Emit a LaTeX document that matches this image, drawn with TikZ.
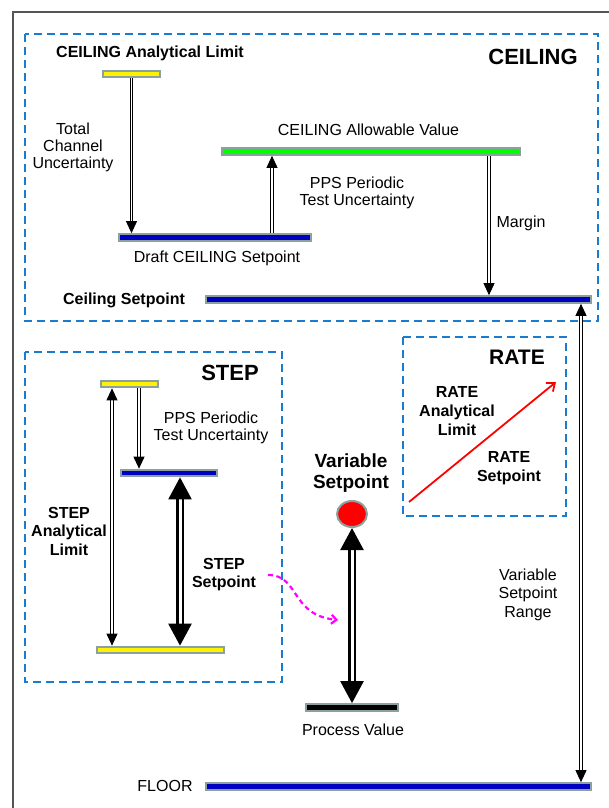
\documentclass[tikz,border=0pt]{standalone}
\usepackage{fontspec}
\setmainfont{Liberation Sans}
\usetikzlibrary{arrows.meta,calc,shapes.geometric}
\definecolor{boxblue}{HTML}{1B7BCF}
\definecolor{barblue}{HTML}{0000C0}
\definecolor{bargray}{HTML}{8CA0A0}
\definecolor{framegray}{HTML}{555555}
\definecolor{barmag}{HTML}{FF00FF}
\begin{document}
\begin{tikzpicture}[x=1pt,y=-1pt,
  bar/.style={draw=bargray, line width=2pt, minimum height=6.7pt, inner sep=0pt, anchor=center},
  zone/.style={draw=boxblue, line width=1.6pt, dash pattern=on 8pt off 5pt},
  lbl/.style={font=\fontsize{16}{17}\selectfont, align=center, inner sep=0pt},
  blbl/.style={font=\fontsize{16}{18.5}\selectfont\bfseries, align=center, inner sep=0pt},
  title/.style={font=\fontsize{22}{24}\selectfont\bfseries, inner sep=0pt},
  thinarrow/.style={double=white, double distance=1.6pt, line width=0.9pt, -{Triangle[length=12pt,width=11pt]}},
  thinboth/.style={thinarrow, {Triangle[length=12pt,width=11pt]}-{Triangle[length=12pt,width=11pt]}},
  bigboth/.style={double=white, double distance=3pt, line width=2.3pt, {Triangle[length=22pt,width=23pt]}-{Triangle[length=22pt,width=23pt]}}
]
\useasboundingbox (0,0) rectangle (608,808);
% outer frame
\draw[framegray, line width=1.5pt] (13,812) -- (13,12) -- (612,12);
% zones
\draw[zone] (25,34) rectangle (598,321);
\draw[zone] (25,352) rectangle (282,682);
\draw[zone] (403,337) rectangle (566,516);
% bars
\node[bar, fill=yellow, minimum width=57pt] (calA) at (131.5,74) {};
\node[bar, fill=barblue, minimum width=192pt] (draft) at (215,237.5) {};
\node[bar, fill=green, minimum width=298pt] (allow) at (371,151.5) {};
\node[bar, fill=barblue, minimum width=385pt] (ceilsp) at (398.5,299.5) {};
\node[bar, fill=barblue, minimum width=385pt] (floor) at (398.5,786.5) {};
\node[bar, fill=yellow, minimum width=57pt] (stepTop) at (129.5,384) {};
\node[bar, fill=barblue, minimum width=96pt] (stepMid) at (169,473) {};
\node[bar, fill=yellow, minimum width=127pt] (stepBot) at (160.5,650) {};
\node[bar, fill=black, minimum width=92pt] (proc) at (352,707.5) {};
\node[ellipse, draw=bargray, fill=red, line width=2pt, minimum width=30pt, minimum height=26pt, inner sep=0pt] (vsp) at (352,514) {};
% x positions
\coordinate (c272) at (272,0);
\coordinate (c489) at (489,0);
\coordinate (c581) at (581,0);
\coordinate (c112) at (112,0);
\coordinate (c139) at (139,0);
\coordinate (c180) at (180,0);
% arrows
\draw[thinarrow] (calA.south) -- (calA.south |- draft.north);
\draw[thinarrow] (c272 |- draft.north) -- (c272 |- allow.south);
\draw[thinarrow] (c489 |- allow.south) -- (c489 |- ceilsp.north);
\draw[thinboth] (c581 |- ceilsp.south) -- (c581 |- floor.north);
\draw[thinboth] (c112 |- stepTop.south) -- (c112 |- stepBot.north);
\draw[thinarrow] (c139 |- stepTop.south) -- (c139 |- stepMid.north);
\draw[bigboth] (c180 |- stepMid.south) -- (c180 |- stepBot.north);
\draw[bigboth] (vsp.south) -- (proc.north);
% rate arrow
\coordinate (r1) at (409,502);
\coordinate (r2) at (556,382);
\draw[red, line width=1.8pt, -{Straight Barb[length=7pt,width=11pt]}] (r1) -- (r2);
% magenta curve
\coordinate (m1) at (268,575);
\coordinate (m2) at (338,620);
\draw[barmag, line width=2.2pt, dash pattern=on 5pt off 3.5pt, -{Straight Barb[length=5pt,width=9pt]}] (m1) .. controls (300,575) and (290,615) .. (m2);
% labels
\node[blbl] (tCAL) at (150,53) {CEILING Analytical Limit};
\node[title] (tCeil) at (533,57) {CEILING};
\node[lbl] (tTCU) at (73,147) {Total\\Channel\\Uncertainty};
\node[lbl] (tAV) at (368.5,130) {CEILING Allowable Value};
\node[lbl] (tPPS1) at (357,192.5) {PPS Periodic\\Test Uncertainty};
\node[lbl] (tDraft) at (217,258) {Draft CEILING Setpoint};
\node[lbl] (tMargin) at (521,223) {Margin};
\node[blbl] (tCSP) at (124,300) {Ceiling Setpoint};
\node[title] (tStep) at (230,373) {STEP};
\node[lbl] (tPPS2) at (211,427.5) {PPS Periodic\\Test Uncertainty};
\node[blbl] (tSAL) at (69,531) {STEP\\Analytical\\Limit};
\node[blbl] (tSSP) at (224,574.5) {STEP\\Setpoint};
\node[font=\fontsize{19}{21}\selectfont\bfseries, align=center, inner sep=0pt] (tVSP) at (351,473) {Variable\\Setpoint};
\node[font=\fontsize{21}{23}\selectfont\bfseries, inner sep=0pt] (tRate) at (517,357) {RATE};
\node[blbl, font=\fontsize{16}{19}\selectfont\bfseries] (tRAL) at (457,411) {RATE\\Analytical\\Limit};
\node[blbl, font=\fontsize{16}{19}\selectfont\bfseries] (tRSP) at (509,468.5) {RATE\\Setpoint};
\node[lbl, font=\fontsize{16}{18.5}\selectfont] (tRange) at (528,594.5) {Variable\\Setpoint\\Range};
\node[lbl] (tPV) at (353,730) {Process Value};
\node[lbl] (tFloor) at (165,786) {FLOOR};
\end{tikzpicture}
\end{document}
